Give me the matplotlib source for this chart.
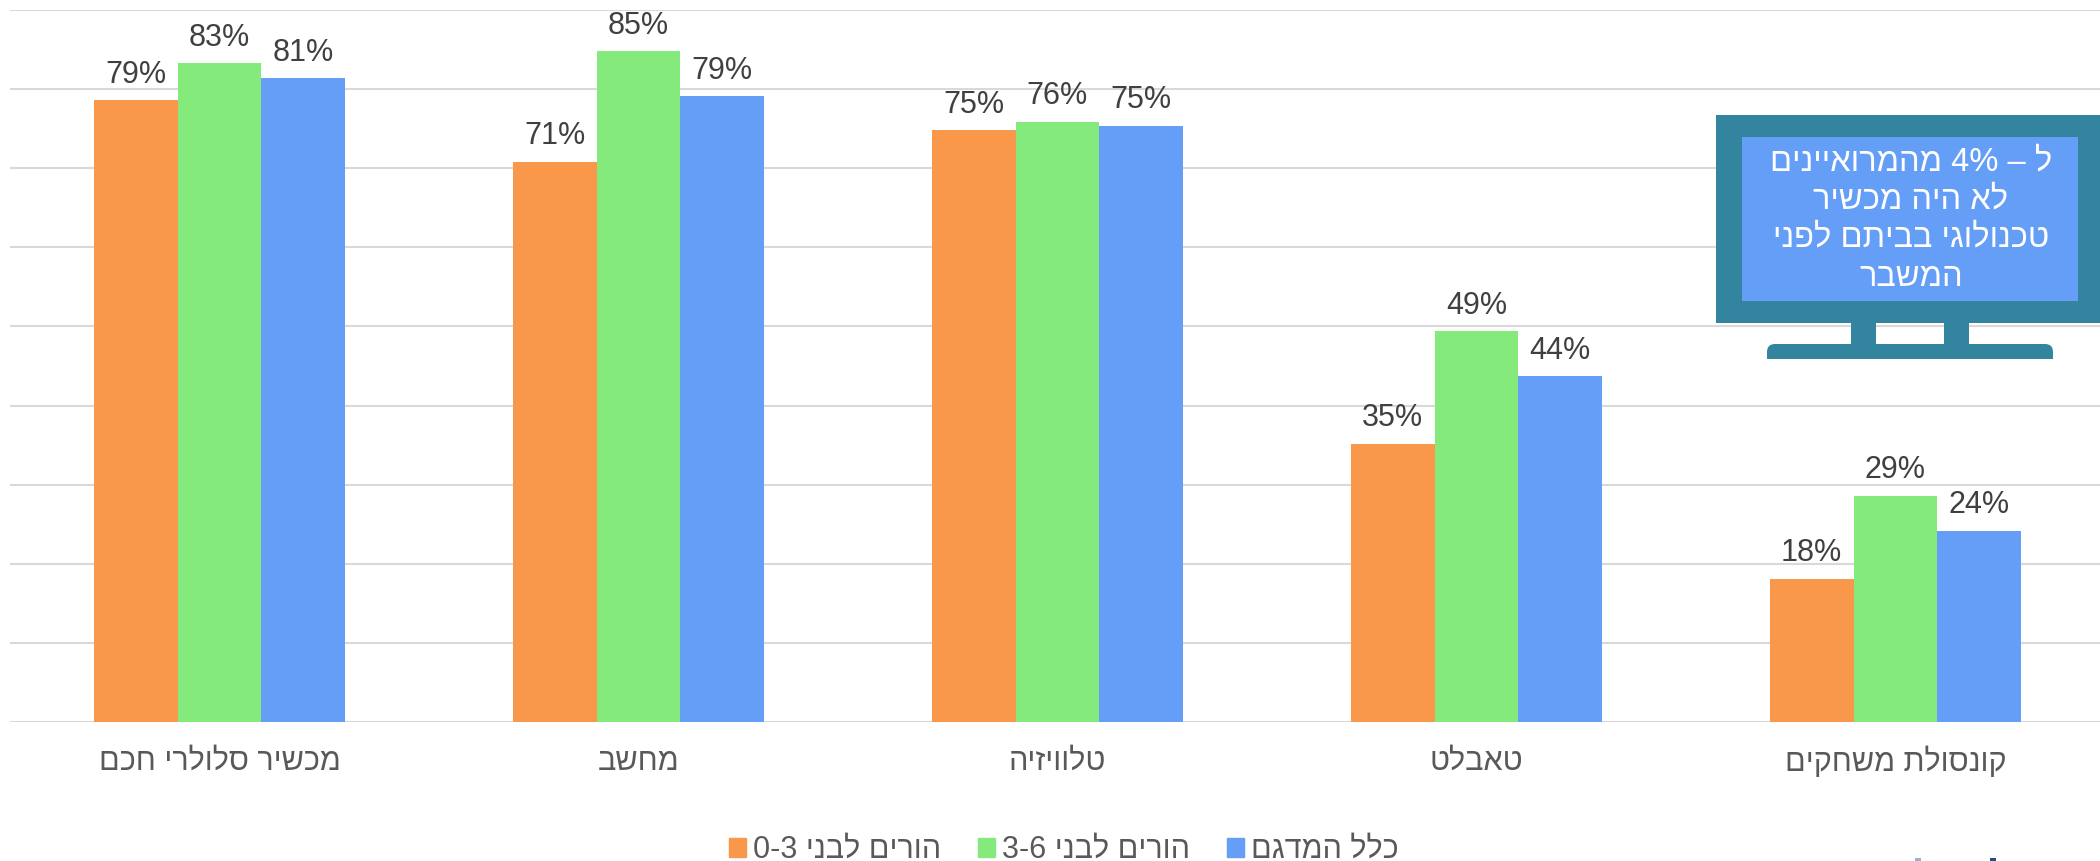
import re
import matplotlib
matplotlib.use("Agg")
import matplotlib.pyplot as plt
import numpy as np
from matplotlib.patches import Patch, Rectangle, FancyBboxPatch

plt.rcParams["font.family"] = ["Liberation Sans", "DejaVu Sans"]

CATEGORIES = ["מכשיר סלולרי חכם", "מחשב", "טלוויזיה", "טאבלט", "קונסולת משחקים"]
SERIES_NAMES = ["הורים לבני 0-3", "הורים לבני 3-6", "כלל המדגם"]
PARENTS_0_3 = [78.6, 70.8, 74.8, 35.2, 18.1]
PARENTS_3_6 = [83.3, 84.8, 75.9, 49.4, 28.6]
ALL_SAMPLE = [81.4, 79.1, 75.4, 43.7, 24.2]
GRID_TICKS = [0, 10, 20, 30, 40, 50, 60, 70, 80, 90]
NOTE_LINES = ["ל – 4% מהמרואיינים", "לא היה מכשיר", "טכנולוגי בביתם לפני", "המשבר"]

COLORS = ["#F9974A", "#84EA7C", "#659EF6"]
MONITOR = "#33849E"
W, H = 2100, 861


def visual(s):
    # matplotlib has no bidi support, so flip the Hebrew and keep number runs readable
    return re.sub(r"[0-9%\-]+", lambda m: m.group(0)[::-1], s[::-1])


fig = plt.figure(figsize=(21, 8.61), dpi=100)
ax = fig.add_axes([10 / W, 1 - 722 / H, 2095 / W, 712 / H])

x = np.arange(len(CATEGORIES))
width = 0.2
handles = []
for i, vals in enumerate([PARENTS_0_3, PARENTS_3_6, ALL_SAMPLE]):
    bars = ax.bar(x + (i - 1) * width, vals, width, color=COLORS[i], zorder=3)
    ax.bar_label(bars, labels=[f"{round(v)}%" for v in vals], padding=7.5,
                 fontsize=22, color="#404040", zorder=4)
    handles.append(Patch(color=COLORS[i], label=visual(SERIES_NAMES[i])))

ax.set_xlim(-0.5, 4.5)
ax.set_ylim(0, 90)
ax.set_yticks(GRID_TICKS)
ax.set_yticklabels([])
ax.set_xticks(x)
ax.set_xticklabels([visual(c) for c in CATEGORIES], fontsize=22, color="#595959")
ax.tick_params(length=0)
ax.tick_params(axis="x", pad=18)
ax.grid(axis="y", color="#D9D9D9", linewidth=1.5, zorder=0)
ax.set_axisbelow(True)
for s in ax.spines.values():
    s.set_visible(False)

fig.legend(handles=handles, ncols=3, loc="center", bbox_to_anchor=(1064 / W, 1 - 850 / H),
           frameon=False, fontsize=22, labelcolor="#595959", handlelength=0.56,
           handleheight=0.56, handletextpad=0.23, columnspacing=1.2, borderpad=0)

# the monitor callout sits on an overlay in image pixels
over = fig.add_axes([0, 0, 1, 1], zorder=10)
over.set_xlim(0, W)
over.set_ylim(H, 0)
over.axis("off")
over.add_patch(Rectangle((1716, 115), 390, 208, color=MONITOR, lw=0))
over.add_patch(Rectangle((1742, 137), 336, 164, color=COLORS[2], lw=0))
over.add_patch(Rectangle((1851, 323), 25, 24, color=MONITOR, lw=0))
over.add_patch(Rectangle((1944, 323), 25, 24, color=MONITOR, lw=0))
base = FancyBboxPatch((1767, 344), 286, 30, boxstyle="round,pad=0,rounding_size=8",
                      color=MONITOR, lw=0)
over.add_patch(base)
base.set_clip_path(Rectangle((1760, 340), 300, 19, transform=over.transData))
for y, line in zip([162, 200, 238, 277], NOTE_LINES):
    over.text(1911, y, visual(line), color="white", fontsize=23.5, ha="center", va="center")

# bits of a cropped logo at the bottom edge
over.add_patch(Rectangle((1915, 858), 6, 3, color="#9FB2C8", lw=0))
over.add_patch(Rectangle((1990, 858), 6, 3, color="#1F4E8C", lw=0))

fig.savefig("out.png", dpi=100)
